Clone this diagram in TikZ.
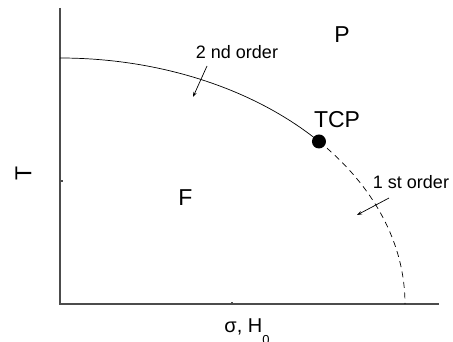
\documentclass[tikz,border=0pt]{standalone}
\usepackage{fontspec}
\setmainfont{Liberation Sans}
\usetikzlibrary{arrows.meta}

\begin{document}
\begin{tikzpicture}[x=1pt, y=1pt,
  axis/.style={draw=black!70, line width=1.1pt},
  line/.style={line width=0.7pt},
  arr/.style={-{Stealth[length=5pt, width=3.5pt]}, line width=0.7pt},
  big/.style={font=\fontsize{23}{23}\selectfont, inner sep=0pt},
  lab/.style={font=\fontsize{18}{18}\selectfont, inner sep=0pt}]
\useasboundingbox (0,0) rectangle (453,341);
\coordinate (origin) at (60,37);
\coordinate (ytop) at (60,333);
\coordinate (xend) at (439,37);
\draw[axis] (ytop) -- (origin) -- (xend);
\draw[axis] (60,160) -- (62.5,160);
\draw[axis] (232,37) -- (232,39.5);
\draw[line] (60,283) arc[start angle=90, end angle=41.35, x radius=345, y radius=246] coordinate (tcp);
\draw[line, dash pattern=on 6pt off 4.5pt] (tcp) arc[start angle=41.35, end angle=0, x radius=345, y radius=246];
\fill (tcp) circle[radius=7];
\node[big] (tcplab) at (337,221) {TCP};
\node[big] (p) at (342,306) {P};
\node[big] (f) at (185.5,143) {F};
\node[big, rotate=90] (tlab) at (23.5,168) {T};
\node[lab] (second) at (237,289) {2 nd order};
\node[lab] (first) at (411,159) {1 st order};
\node[big, font=\fontsize{20}{20}\selectfont, anchor=base] (xlab) at (247,9)
  {σ, H\raisebox{-12pt}{\fontsize{13}{13}\selectfont 0}};
\coordinate (second-a) at (207,275);
\coordinate (second-b) at (193,244);
\coordinate (first-a) at (389,143);
\coordinate (first-b) at (357,126);
\draw[arr] (second-a) -- (second-b);
\draw[arr] (first-a) -- (first-b);
\end{tikzpicture}
\end{document}
